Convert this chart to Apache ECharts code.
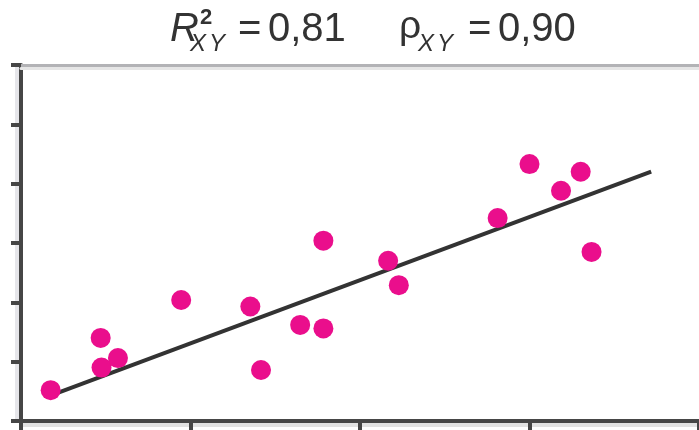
<!DOCTYPE html>
<html>
<head>
<meta charset="utf-8">
<style>html,body{margin:0;padding:0;background:#fff}#c{width:699px;height:430px}</style>
<script src="https://cdn.jsdelivr.net/npm/echarts@6/dist/echarts.min.js"></script>
</head>
<body>
<div id="c"></div>
<script>
// Data
const xValues = [0.175, 0.47, 0.475, 0.572, 0.945, 1.353, 1.416, 1.647, 1.784, 1.784, 2.166, 2.229, 2.812, 3.0, 3.186, 3.302, 3.366];
const yValues = [0.52, 1.40, 0.90, 1.06, 2.04, 1.93, 0.86, 1.62, 1.56, 3.04, 2.70, 2.29, 3.42, 4.33, 3.88, 4.20, 2.85];
const trendX = [0.153, 3.718];
const trendY = [0.405, 4.205];
const r2Text = '0,81';
const rhoText = '0,90';

const points = xValues.map((x, i) => [x, yValues[i]]);
const trend = trendX.map((x, i) => [x, trendY[i]]);

const FONT = '"Liberation Sans", Arial, sans-serif';
const axisColor = '#464646';
const chart = echarts.init(document.getElementById('c'), null, {renderer: 'canvas'});

function txt(x, y, s, size, opts) {
  return {
    type: 'text', x: x, y: y,
    style: Object.assign({text: s, fontSize: size, fontFamily: FONT, fill: '#333', verticalAlign: 'top', align: 'left'}, opts || {})
  };
}

chart.setOption({
  animation: false,
  grid: {left: 21, right: -2, top: 65, bottom: 9, containLabel: false},
  xAxis: [{
    type: 'value', min: 0, max: 4, interval: 1, position: 'bottom',
    axisLine: {show: true, onZero: false, lineStyle: {color: axisColor, width: 4, shadowColor: '#e2e2e2', shadowOffsetY: 4, shadowBlur: 0}},
    axisTick: {show: true, length: 9, lineStyle: {color: axisColor, width: 4}},
    axisLabel: {show: false}, splitLine: {show: false}
  }, {
    type: 'value', min: 0, max: 4, interval: 1, position: 'top',
    axisLine: {show: true, onZero: false, lineStyle: {color: '#b3b3b6', width: 3, shadowColor: '#e6e6e6', shadowOffsetY: 3, shadowBlur: 0}},
    axisTick: {show: false}, axisLabel: {show: false}, splitLine: {show: false}
  }],
  yAxis: {
    type: 'value', min: 0, max: 6, interval: 1,
    axisLine: {show: true, onZero: false, lineStyle: {color: axisColor, width: 4, shadowColor: '#e6e6ea', shadowOffsetX: -4, shadowBlur: 0}},
    axisTick: {show: true, length: 10, lineStyle: {color: axisColor, width: 4}},
    axisLabel: {show: false}, splitLine: {show: false}
  },
  series: [{
    type: 'line', data: trend, symbol: 'none', z: 2,
    lineStyle: {color: '#333333', width: 4}
  }, {
    type: 'scatter', data: points, symbol: 'circle', symbolSize: 20, z: 3,
    itemStyle: {color: '#ea0e8c', opacity: 1}
  }],
  graphic: [
    txt(170, 10, 'R', 40, {fontStyle: 'italic'}),
    txt(200, 7, '2', 22, {fontWeight: 'bold'}),
    txt(190, 32, 'X', 24, {fontStyle: 'italic'}),
    txt(209, 32, 'Y', 24, {fontStyle: 'italic'}),
    txt(238, 10, '=', 40),
    txt(268, 10, r2Text, 40),
    txt(399, 8, 'ρ', 39),
    txt(418, 32, 'X', 24, {fontStyle: 'italic'}),
    txt(437, 32, 'Y', 24, {fontStyle: 'italic'}),
    txt(468, 10, '=', 40),
    txt(498, 10, rhoText, 40)
  ]
});
</script>
</body>
</html>
